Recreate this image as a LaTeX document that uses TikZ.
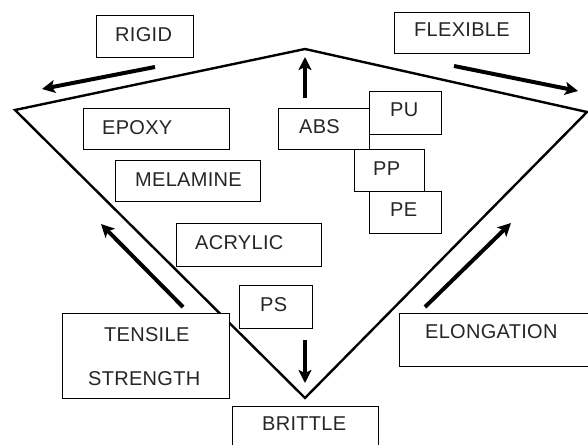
\documentclass[tikz,border=0pt]{standalone}
\usepackage{fontspec}
\setmainfont{Liberation Sans}[LetterSpace=1.5]
\usetikzlibrary{arrows.meta}
\begin{document}
\begin{tikzpicture}[x=1pt,y=-1pt,
  box/.style={draw=black, fill=white, line width=1.4pt, inner sep=0pt},
  lbl/.style={anchor=base west, inner sep=0pt, font=\fontsize{20}{24}\selectfont, text=black!85},
  bigarrow/.style={line width=4pt, -{Stealth[length=13pt,width=13pt,inset=3pt]}},
  frame/.style={line width=2.4pt, line join=miter}]
\useasboundingbox (0,0) rectangle (588,444);
% frame
\coordinate (L) at (15,110);
\coordinate (T) at (305,49);
\coordinate (R) at (587,112);
\coordinate (B) at (305,398);
\draw[frame] (L) -- (T) -- (R) -- (B) -- cycle;
% boxes
\node[box, minimum width=97pt, minimum height=42pt, anchor=north west] (rigidbox) at (96,15) {};
\node[box, minimum width=135pt, minimum height=41pt, anchor=north west] (flexbox) at (394,12) {};
\node[box, minimum width=146pt, minimum height=41pt, anchor=north west] (epoxybox) at (83,108) {};
\node[box, minimum width=145pt, minimum height=41pt, anchor=north west] (melbox) at (115,160) {};
\node[box, minimum width=91pt, minimum height=41pt, anchor=north west] (absbox) at (278,108) {};
\node[box, minimum width=72pt, minimum height=43pt, anchor=north west] (pubox) at (369,91) {};
\node[box, minimum width=70pt, minimum height=42pt, anchor=north west] (ppbox) at (354,149) {};
\node[box, minimum width=72pt, minimum height=42pt, anchor=north west] (pebox) at (369,191) {};
\node[box, minimum width=145pt, minimum height=43pt, anchor=north west] (acrbox) at (176,223) {};
\node[box, minimum width=73pt, minimum height=43pt, anchor=north west] (psbox) at (239,285) {};
\node[box, minimum width=167pt, minimum height=85pt, anchor=north west] (tsbox) at (62,313) {};
\node[box, minimum width=146pt, minimum height=45pt, anchor=north west] (brbox) at (232,406) {};
\node[box, minimum width=189pt, minimum height=53pt, anchor=north west] (elbox) at (399,313) {};
% labels
\node[lbl] (rigid) at (115,41.5) {RIGID};
\node[lbl] (flex) at (414,36.5) {FLEXIBLE};
\node[lbl] (epoxy) at (102,134.3) {EPOXY};
\node[lbl] (mel) at (135,186.5) {MELAMINE};
\node[lbl] (abs) at (299,133.3) {ABS};
\node[lbl] (pu) at (390,116.7) {PU};
\node[lbl] (pp) at (373,175) {PP};
\node[lbl] (pe) at (390,216.7) {PE};
\node[lbl] (acr) at (195,249.3) {ACRYLIC};
\node[lbl] (ps) at (260,311.7) {PS};
\node[lbl] (tens) at (104,341.7) {TENSILE};
\node[lbl] (stren) at (88,385) {STRENGTH};
\node[lbl] (brit) at (262,430) {BRITTLE};
\node[lbl] (elong) at (425,338.3) {ELONGATION};
% arrows
\coordinate (a1s) at (155,67);  \coordinate (a1e) at (42,89);
\coordinate (a2s) at (305,98);  \coordinate (a2e) at (305,57);
\coordinate (a3s) at (454,66);  \coordinate (a3e) at (578,91);
\coordinate (a4s) at (183,307); \coordinate (a4e) at (101,224);
\coordinate (a5s) at (425,307); \coordinate (a5e) at (511,223);
\coordinate (a6s) at (305,340); \coordinate (a6e) at (305,383);
\draw[bigarrow] (a1s) -- (a1e);
\draw[bigarrow] (a2s) -- (a2e);
\draw[bigarrow] (a3s) -- (a3e);
\draw[bigarrow] (a4s) -- (a4e);
\draw[bigarrow] (a5s) -- (a5e);
\draw[bigarrow] (a6s) -- (a6e);
\end{tikzpicture}
\end{document}
